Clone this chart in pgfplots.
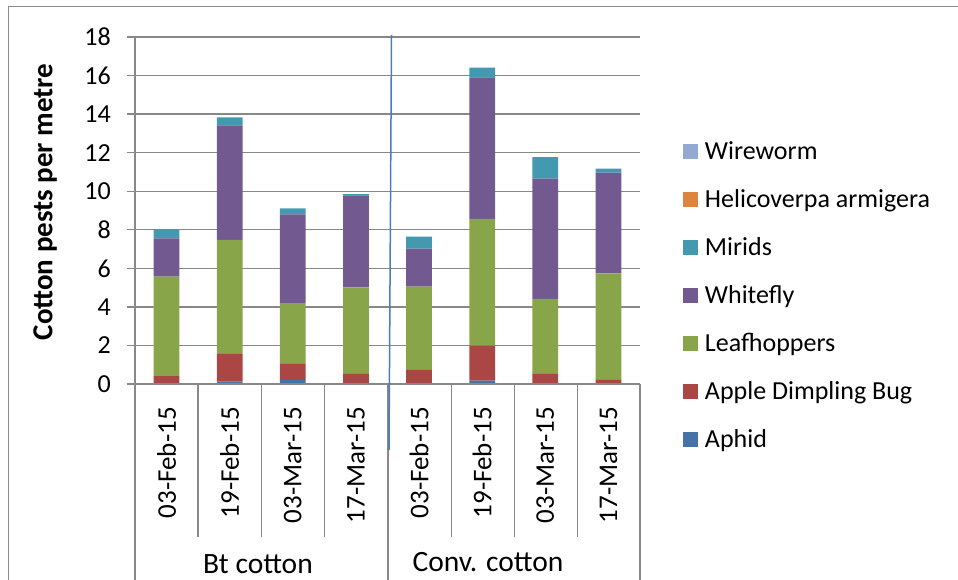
\documentclass[border=0pt]{standalone}
\usepackage{pgfplots}
\usepackage{pgfplotstable}
\pgfplotsset{compat=1.18}
\usepackage{fontspec}
\setmainfont{Carlito}
\definecolor{cAphid}{HTML}{4572A7}
\definecolor{cADB}{HTML}{AA4644}
\definecolor{cLeaf}{HTML}{89A54A}
\definecolor{cWhite}{HTML}{725990}
\definecolor{cMirid}{HTML}{4299B0}
\definecolor{cHeli}{HTML}{DD843D}
\definecolor{cWire}{HTML}{94A9D2}
\definecolor{gridgray}{HTML}{888888}
\definecolor{blueline}{HTML}{4A7EBB}
\definecolor{framegray}{HTML}{8C8C8C}
\pgfplotstableread{
x aphid adb leaf white mirid heli wire
0 0.00 0.41 5.16 1.98 0.47 0 0
1 0.12 1.47 5.88 5.95 0.41 0 0
2 0.22 0.85 3.13 4.60 0.31 0 0
3 0.02 0.50 4.49 4.77 0.07 0 0
4 0.00 0.73 4.32 1.97 0.62 0 0
5 0.17 1.82 6.57 7.35 0.50 0 0
6 0.03 0.52 3.86 6.24 1.12 0 0
7 0.00 0.24 5.50 5.22 0.21 0 0
}\data
\newcommand{\bigfont}{\fontsize{26bp}{31bp}\selectfont}
\newcommand{\datefont}{\fontsize{27bp}{32bp}\selectfont}
\newcommand{\grpfont}{\fontsize{29.5bp}{35bp}\selectfont}
\newcommand{\labfont}{\fontsize{29bp}{35bp}\selectfont}
\begin{document}
\begin{tikzpicture}
\useasboundingbox (0,0) rectangle (958bp,580bp);
\begin{axis}[
  at={(135bp,196bp)}, anchor=south west,
  scale only axis, width=505bp, height=347bp,
  xmin=-0.5, xmax=7.5, ymin=0, ymax=18,
  ybar stacked, bar width=0.407,
  ytick={0,2,...,18},
  ymajorgrids, grid style={line width=1.3bp, color=gridgray},
  axis line style={draw=none},
  xtick=data,
  xticklabels={03-Feb-15,19-Feb-15,03-Mar-15,17-Mar-15,03-Feb-15,19-Feb-15,03-Mar-15,17-Mar-15},
  xtick style={draw=none},
  ytick style={line width=1.3bp, color=gridgray},
  tick align=outside, major tick length=8bp, ytick pos=left, xtick pos=bottom,
  tick label style={font=\bigfont, /pgf/number format/assume math mode=true},
  xticklabel style={rotate=90, anchor=east, inner sep=0pt, font=\datefont},
  xticklabel shift=15bp,
  yticklabel style={anchor=east, inner sep=0pt},
  yticklabel shift=16bp,
  ylabel={\bfseries Cotton pests per metre},
  ylabel style={at={(axis description cs:-0.178,0.5245)}, anchor=center, font=\labfont},
  legend image code/.code={\fill[#1] (0bp,-7.5bp) rectangle (15bp,7.5bp);},
  reverse legend,
  legend cell align=left,
  legend style={at={(1.0851,0.7392)}, anchor=north west, draw=none, fill=none,
    inner sep=0pt, outer sep=0pt, column sep=7bp,
    nodes={inner sep=0pt, minimum height=48bp, font=\bigfont}},
]
\addplot[fill=cAphid, draw=none] table[x=x,y=aphid]{\data};
\addlegendentry{Aphid}
\addplot[fill=cADB, draw=none] table[x=x,y=adb]{\data};
\addlegendentry{Apple Dimpling Bug}
\addplot[fill=cLeaf, draw=none] table[x=x,y=leaf]{\data};
\addlegendentry{Leafhoppers}
\addplot[fill=cWhite, draw=none] table[x=x,y=white]{\data};
\addlegendentry{Whitefly}
\addplot[fill=cMirid, draw=none] table[x=x,y=mirid]{\data};
\addlegendentry{Mirids}
\addplot[fill=cHeli, draw=none] table[x=x,y=heli]{\data};
\addlegendentry{Helicoverpa armigera}
\addplot[fill=cWire, draw=none] table[x=x,y=wire]{\data};
\addlegendentry{Wireworm}
\end{axis}
\draw[gridgray, line width=1.3bp] (135bp,0) -- (135bp,543bp);
\draw[gridgray, line width=1.3bp] (127bp,196bp) -- (640bp,196bp);
\draw[gridgray, line width=1.3bp] (388.125bp,0) -- (388.125bp,196bp);
\draw[gridgray, line width=1.3bp] (640bp,0) -- (640bp,196bp);
\foreach \xx in {198.125,261.25,324.375,451.25,514.375,577.5} {
  \draw[gridgray, line width=1.3bp] (\xx bp,43bp) -- (\xx bp,196bp);
}
\draw[blueline, line width=1.5bp] (391.5bp,545bp) -- (389bp,130bp);
\draw[framegray, line width=1bp] (8bp,0) -- (8bp,573bp) -- (958bp,573bp);
\node[anchor=base, inner sep=0pt, text depth=0pt, font=\grpfont] at (258bp,6.5bp) {Bt cotton};
\node[anchor=base, inner sep=0pt, text depth=0pt, font=\grpfont] at (488bp,9bp) {Conv. cotton};
\end{tikzpicture}
\end{document}
